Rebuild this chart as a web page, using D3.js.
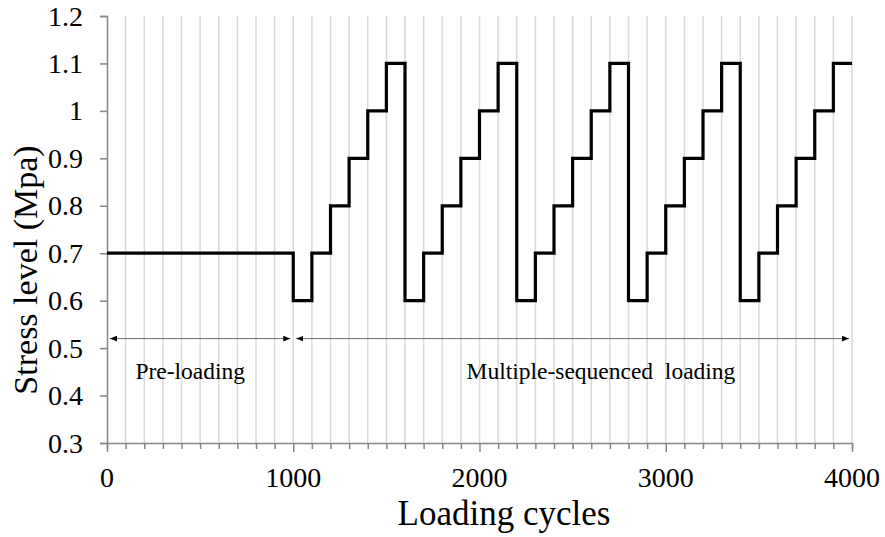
<!DOCTYPE html>
<html>
<head>
<meta charset="utf-8">
<script src="https://cdn.jsdelivr.net/npm/d3@7"></script>
<style>
  body { margin: 0; background: #fff; }
  svg { display: block; }
</style>
</head>
<body>
<div id="chart"></div>
<script>
// data
var cycles = [0, 1000, 1100, 1200, 1300, 1400, 1500, 1600, 1700, 1800, 1900, 2000, 2100, 2200, 2300, 2400,
              2500, 2600, 2700, 2800, 2900, 3000, 3100, 3200, 3300, 3400, 3500, 3600, 3700, 3800, 3900, 4000];
var stress = [0.7, 0.6, 0.7, 0.8, 0.9, 1.0, 1.1, 0.6, 0.7, 0.8, 0.9, 1.0, 1.1, 0.6, 0.7, 0.8,
              0.9, 1.0, 1.1, 0.6, 0.7, 0.8, 0.9, 1.0, 1.1, 0.6, 0.7, 0.8, 0.9, 1.0, 1.1, 1.1];
var yTicks = [0.3, 0.4, 0.5, 0.6, 0.7, 0.8, 0.9, 1.0, 1.1, 1.2];
var yLabels = ["0.3", "0.4", "0.5", "0.6", "0.7", "0.8", "0.9", "1", "1.1", "1.2"];
var xMajor = [0, 1000, 2000, 3000, 4000];
var xLabels = ["0", "1000", "2000", "3000", "4000"];
var phaseNames = ["Pre-loading", "Multiple-sequenced  loading"];
var phaseFrom = [0, 1000];
var phaseTo = [1000, 4000];
var phaseLabelAt = [447, 2652];
var phaseLevel = 0.52;
var phaseLabelLevel = 0.435;

var FONT = 'Liberation Serif, Times New Roman, serif';
var width = 885, height = 537;
var margin = { top: 16, right: 33, bottom: 94, left: 107 };

var svg = d3.select('#chart').append('svg')
    .attr('width', width)
    .attr('height', height)
    .attr('font-family', FONT);

var x = d3.scaleLinear().domain([0, 4000]).range([margin.left, width - margin.right]);
var y = d3.scaleLinear().domain([0.3, 1.2]).range([height - margin.bottom, margin.top]);

// vertical grid every 100 cycles
var minor = d3.range(100, 4001, 100);
svg.append('g')
    .selectAll('line')
    .data(minor)
    .enter()
    .append('line')
    .attr('x1', function (d) { return x(d); })
    .attr('x2', function (d) { return x(d); })
    .attr('y1', y(0.3))
    .attr('y2', y(1.2))
    .attr('stroke', '#d9d9d9')
    .attr('stroke-width', 1.5);

// x axis: minor ticks every 100, longer ticks at 1000s
var xAxis = svg.append('g')
    .attr('transform', 'translate(0,' + y(0.3) + ')')
    .call(d3.axisBottom(x).tickValues(d3.range(0, 4001, 100)).tickSize(6).tickFormat(''));
xAxis.select('.domain').attr('stroke', '#868686').attr('stroke-width', 1.5);
xAxis.selectAll('.tick line')
    .attr('stroke', '#868686')
    .attr('stroke-width', 1.5)
    .attr('y2', function (d) { return xMajor.indexOf(d) >= 0 ? 9 : 6; });

// y axis
var yAxis = svg.append('g')
    .attr('transform', 'translate(' + x(0) + ',0)')
    .call(d3.axisLeft(y).tickValues(yTicks).tickSize(7).tickFormat(''));
yAxis.select('.domain').attr('stroke', '#868686').attr('stroke-width', 1.5);
yAxis.selectAll('.tick line').attr('stroke', '#868686').attr('stroke-width', 1.5);

// tick labels
svg.append('g')
    .selectAll('text')
    .data(xLabels)
    .enter()
    .append('text')
    .attr('x', function (d, i) { return x(xMajor[i]); })
    .attr('y', y(0.3) + 44)
    .attr('text-anchor', 'middle')
    .attr('font-size', 28)
    .attr('fill', '#000')
    .text(function (d) { return d; });
svg.append('g')
    .selectAll('text')
    .data(yLabels)
    .enter()
    .append('text')
    .attr('x', x(0) - 24)
    .attr('y', function (d, i) { return y(yTicks[i]); })
    .attr('dy', '0.34em')
    .attr('text-anchor', 'end')
    .attr('font-size', 28)
    .attr('fill', '#000')
    .text(function (d) { return d; });

// arrow markers
var defs = svg.append('defs');
defs.append('marker')
    .attr('id', 'arrEnd')
    .attr('viewBox', '0 0 10 10')
    .attr('refX', 10).attr('refY', 5)
    .attr('markerWidth', 7).attr('markerHeight', 7)
    .attr('markerUnits', 'userSpaceOnUse')
    .attr('orient', 'auto')
    .append('path').attr('d', 'M0,1 L10,5 L0,9 Z').attr('fill', '#000');
defs.append('marker')
    .attr('id', 'arrStart')
    .attr('viewBox', '0 0 10 10')
    .attr('refX', 0).attr('refY', 5)
    .attr('markerWidth', 7).attr('markerHeight', 7)
    .attr('markerUnits', 'userSpaceOnUse')
    .attr('orient', 'auto')
    .append('path').attr('d', 'M10,1 L0,5 L10,9 Z').attr('fill', '#000');

// phase arrows + labels
var ph = svg.append('g');
ph.selectAll('line')
    .data(phaseNames)
    .enter()
    .append('line')
    .attr('x1', function (d, i) { return x(phaseFrom[i]) + 3; })
    .attr('x2', function (d, i) { return x(phaseTo[i]) - 3; })
    .attr('y1', y(phaseLevel))
    .attr('y2', y(phaseLevel))
    .attr('stroke', '#6e6e6e')
    .attr('stroke-width', 1)
    .attr('marker-start', 'url(#arrStart)')
    .attr('marker-end', 'url(#arrEnd)');
ph.selectAll('text')
    .data(phaseNames)
    .enter()
    .append('text')
    .attr('x', function (d, i) { return x(phaseLabelAt[i]); })
    .attr('y', y(phaseLabelLevel))
    .attr('text-anchor', 'middle')
    .attr('font-size', 23.5)
    .style('white-space', 'pre')
    .attr('fill', '#000')
    .text(function (d) { return d; });

// stress step line
var line = d3.line()
    .x(function (d, i) { return x(cycles[i]); })
    .y(function (d) { return y(d); })
    .curve(d3.curveStepAfter);
svg.append('path')
    .datum(stress)
    .attr('d', line)
    .attr('fill', 'none')
    .attr('stroke', '#000')
    .attr('stroke-width', 3.2)
    .attr('stroke-linejoin', 'miter');

// axis titles
svg.append('text')
    .attr('x', 504)
    .attr('y', 525)
    .attr('text-anchor', 'middle')
    .attr('font-size', 35)
    .text('Loading cycles');
svg.append('text')
    .attr('transform', 'translate(37,270) rotate(-90)')
    .attr('text-anchor', 'middle')
    .attr('font-size', 34)
    .text('Stress level (Mpa)');
</script>
</body>
</html>
